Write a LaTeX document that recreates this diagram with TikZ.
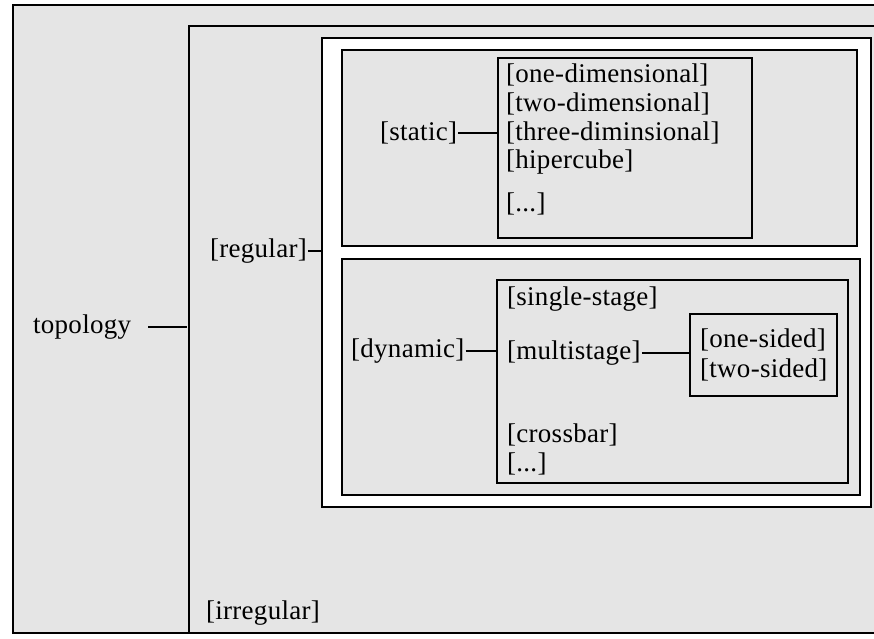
\documentclass[tikz,border=0pt]{standalone}
\usepackage{fontspec}
\setmainfont{Liberation Serif}[LetterSpace=1]
\usetikzlibrary{positioning}

\begin{document}
\begin{tikzpicture}[x=1pt, y=-1pt,
    frame/.style={line width=2.9pt},
    box/.style={draw, line width=2.9pt, anchor=north west, inner sep=0pt, outer sep=0pt},
    item/.style={font=\fontsize{27}{29}\selectfont, anchor=west, inner sep=1pt},
    link/.style={line width=2.2pt}]
  \useasboundingbox (0,0) rectangle (874,638);
  % shaded paper inside the outer frame
  \fill[black!10] (13,5) rectangle (874,633);

  % outer frames, open to the right
  \draw[frame] (874,5) -- (13,5) -- (13,633) -- (874,633);
  \draw[frame] (874,26) -- (189,26) -- (189,633);

  % boxes
  \node[box, fill=white, minimum width=549, minimum height=469] (reg) at (322,38) {};
  \node[box, fill=black!10, minimum width=515, minimum height=196] (stat) at (342,50) {};
  \node[box, fill=black!10, minimum width=518, minimum height=236] (dyn) at (342,259) {};
  \node[box, minimum width=254, minimum height=180] (statlist) at (498,58) {};
  \node[box, minimum width=351, minimum height=203] (dynlist) at (497,280) {};
  \node[box, minimum width=147, minimum height=82] (sides) at (690,314) {};

  % labels
  \node[item] (topo) at (32,327) {topology};
  \node[item] (regular) at (209,251) {[regular]};
  \node[item] (irregular) at (205,613) {[irregular]};
  \node[item] (static) at (379,133) {[static]};
  \node[item] (dynamic) at (350,351) {[dynamic]};

  \node[item] (onedim) at (505,75) {[one-dimensional]};
  \node[item] (twodim) at (505,104) {[two-dimensional]};
  \node[item] (threedim) at (505,133) {[three-diminsional]};
  \node[item] (hcube) at (505,162) {[hipercube]};
  \node[item] (sdots) at (505,204) {[...]};

  \node[item] (single) at (506,299) {[single-stage]};
  \node[item] (multi) at (506,353) {[multistage]};
  \node[item] (cross) at (506,435) {[crossbar]};
  \node[item] (ddots) at (506,464) {[...]};

  \node[item] (onesided) at (699,340) {[one-sided]};
  \node[item] (twosided) at (699,370) {[two-sided]};

  % connectors
  \coordinate (topoend) at (187,327);
  \draw[link] ([xshift=16pt]topo.east) -- (topoend);
  \draw[link] (regular.east) -- (regular.east -| reg.west);
  \draw[link] (static.east) -- (static.east -| statlist.west);
  \draw[link] (dynamic.east) -- (dynamic.east -| dynlist.west);
  \draw[link] (multi.east) -- (multi.east -| sides.west);
\end{tikzpicture}
\end{document}
